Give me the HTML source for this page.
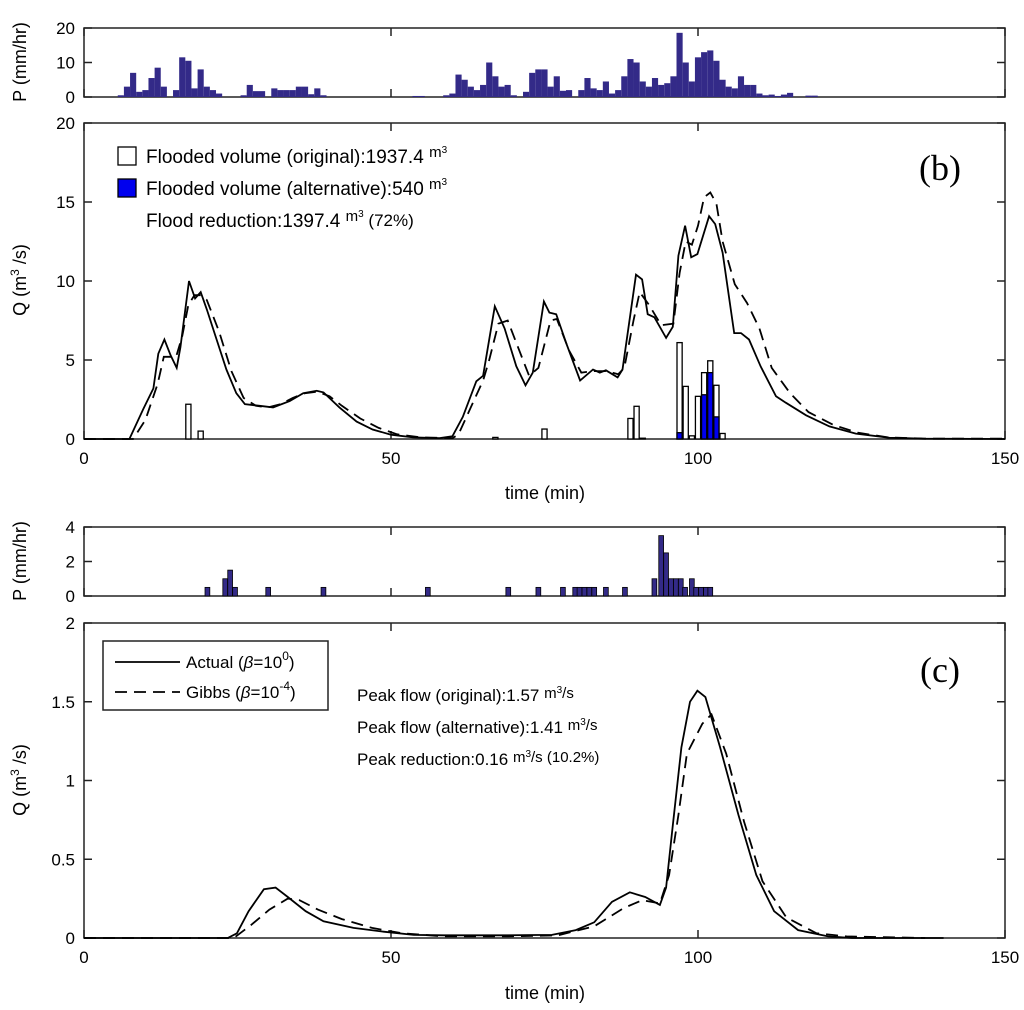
<!DOCTYPE html>
<html><head><meta charset="utf-8"><style>
body{margin:0;background:#fff;}
svg{display:block;font-family:"Liberation Sans",Arial,sans-serif;}
</style></head><body>
<svg id="fig" width="1024" height="1010" viewBox="0 0 1024 1010" xmlns="http://www.w3.org/2000/svg"></svg>
<script>
// ---- data ----
const rainTimesB = [6,7,8,9,10,11,12,13,15,16,17,18,19,20,21,22,26,27,28,29,31,32,33,34,35,36,37,38,39,54,55,59,60,61,62,63,64,65,66,67,68,69,70,72,73,74,75,76,77,78,79,81,82,83,84,85,86,87,88,89,90,91,92,93,94,95,96,97,98,99,100,101,102,103,104,105,106,107,108,109,110,111,112,113,114,115,118,119];
const rainValsB = [0.5,3,7,1.5,2,5.5,8.5,3,2,11.5,10.5,2.5,8,3,2,1,0.5,3.5,1.7,1.7,2.5,2,2,2,3,3,0.8,2.5,0.5,0.3,0.3,0.5,1,6.5,5,3,2,3.5,10,6,3,3.5,0.5,1.5,7,8,8,3,6,1.8,2,2,5.5,2.5,2,4.5,1,2,6,11,10,4.5,3,5.5,3.5,4,6,18.6,10,4.5,11.5,13,13.5,10.5,5,3,2.5,6,3.5,3.5,1,0.5,0.7,0.3,0.7,1.2,0.4,0.4];
const qActT_B = [0,7.4,9.65,11.3,12.1,13.1,14.1,15.1,15.7,17.1,18.1,19,20,21.6,23.2,24.8,26.2,28.6,30.8,33.5,35.7,37.9,39,41.6,44.4,47,50,53.6,57.9,60,61.7,63.9,65,66.9,68.5,70.4,71.9,73.1,74.9,75.8,76.9,78.5,80.8,82.9,84,85,86.9,87.7,89.9,90.9,91.8,92.9,94.8,95.9,96.8,97.9,98.9,99.9,101.8,102.8,104,105.9,107,108.3,110.2,112.7,114.3,117.6,121.4,125.7,131.1,136.5,150];
const qActV_B = [0,0,1.9,3.2,5.4,6.3,5.3,4.5,5.8,10,8.9,9.3,8.2,6.3,4.4,2.9,2.2,2.1,2.0,2.4,2.9,3.05,2.95,2.0,1.1,0.6,0.27,0.1,0.06,0.17,1.4,3.65,4,8.4,7,4.6,3.4,4.2,8.7,8.0,7.9,6.1,3.7,4.4,4.2,4.35,3.9,4.4,10.4,10.1,7.9,7.7,6.4,7.1,11.6,13.5,11.5,11.7,14.1,13.6,11.8,6.7,6.7,6.3,4.6,2.7,2.3,1.5,0.8,0.34,0.08,0.02,0];
const qGibT_B = [0,8,10,12,13,14,15,16,17,18,19,20,22,24,26,28,30,32,34,36,38,40,42,45,48,51,55,60,61,63,65,66,67.5,69,71,72.5,74,75,76,77,79,81,83,85,87,88,89.5,90.5,92,94,96,97,98,99,100,101,102,103,104,106,108,110,112,115,118,122,126,131,137,150];
const qGibV_B = [0,0,1.2,3.5,5.2,5.2,5.2,6.5,8.5,9.1,9.1,8.8,6.8,4.3,2.6,2.1,2.0,2.2,2.6,2.9,3.0,2.7,2.1,1.3,0.7,0.3,0.1,0.05,0.3,2.0,3.7,5.0,7.3,7.5,5.5,4.0,4.5,6,7.5,7.6,5.6,4.2,4.3,4.3,4.1,4.5,7.5,9.3,8.5,7.2,7.3,10.5,12.5,12.3,13.5,15.3,15.6,14.9,12.5,9.8,8.6,7.0,4.5,2.9,1.7,0.9,0.4,0.1,0.02,0.02];
const floodT = [17,19,67,75,89,90,91,97,98,99,100,101,102,103,104];
const floodOrig = [2.2,0.5,0.1,0.63,1.3,2.07,0.05,6.1,3.33,0.2,2.7,4.2,4.95,3.4,0.35];
const floodAlt = [0,0,0,0,0,0,0,0.4,0,0,0,2.8,4.2,1.4,0];
const rainTimesC = [20.1,23.0,23.8,24.6,30.0,39.0,56.0,69.1,74.0,78.0,80.0,80.7,81.5,82.3,83.1,85.0,88.1,92.9,94.0,94.8,95.6,96.4,97.2,97.9,99.0,99.7,100.5,101.3,102.0];
const rainValsC = [0.5,1.0,1.5,0.5,0.5,0.5,0.5,0.5,0.5,0.5,0.5,0.5,0.5,0.5,0.5,0.5,0.5,1.0,3.5,2.5,1.0,1.0,1.0,0.5,1.0,0.5,0.5,0.5,0.5];
const qActT_C = [0,23.4,24.9,26.8,29.3,31.2,33.2,36.1,39,43.9,48.8,53.7,58.6,68.4,76.2,80.1,83.1,86,88.9,91.4,93.8,94.8,95.8,97.3,98.7,99.9,101.2,103.6,106.6,109.5,112.4,116.3,121.2,125.1,140];
const qActV_C = [0,0,0.03,0.17,0.31,0.32,0.26,0.17,0.106,0.064,0.04,0.02,0.017,0.017,0.02,0.05,0.1,0.23,0.29,0.26,0.21,0.32,0.68,1.21,1.5,1.57,1.53,1.21,0.78,0.4,0.17,0.05,0.01,0,0];
const qGibT_C = [0,24.4,27.3,30.2,33.2,35.1,38.1,42,46.9,51.8,58.6,68.4,77.2,83.1,87.9,90.9,93.8,95.3,96.8,98.2,100.7,102.2,104.6,107.5,110.5,114.4,119.3,124.2,137];
const qGibV_C = [0,0,0.085,0.18,0.25,0.24,0.18,0.12,0.064,0.03,0.01,0.01,0.017,0.074,0.19,0.24,0.22,0.4,0.78,1.17,1.36,1.42,1.17,0.74,0.36,0.13,0.03,0.01,0];
const xTicks = [0,50,100,150];

// ---- helpers ----
const NS="http://www.w3.org/2000/svg";
const svg=document.getElementById('fig');
function mk(tag,attrs,parent){const e=document.createElementNS(NS,tag);for(const k in attrs)e.setAttribute(k,attrs[k]);(parent||svg).appendChild(e);return e;}
const X0=84,X1=1005;
function xs(t){return X0+(t/150)*(X1-X0);}
function panel(top,bot,ymax,yticks,ylabels,name,showXLabels){
  const g=mk('g',{});
  
  
  const ys=v=>bot-(v/ymax)*(bot-top);
  const box=mk('rect',{x:X0,y:top,width:X1-X0,height:bot-top,fill:'none',stroke:'#222','stroke-width':1.5},g);
  
  
  xTicks.forEach(t=>{
    mk('line',{x1:xs(t),x2:xs(t),y1:bot,y2:bot-8,stroke:'#222','stroke-width':1.5},g);
    mk('line',{x1:xs(t),x2:xs(t),y1:top,y2:top+8,stroke:'#222','stroke-width':1.5},g);
    if(showXLabels){const tx=mk('text',{x:xs(t),y:bot+25,'text-anchor':'middle','font-size':17},g);tx.textContent=t;
      
      }
  });
  yticks.forEach((v,i)=>{
    mk('line',{x1:X0,x2:X0+8,y1:ys(v),y2:ys(v),stroke:'#222','stroke-width':1.5},g);
    mk('line',{x1:X1,x2:X1-8,y1:ys(v),y2:ys(v),stroke:'#222','stroke-width':1.5},g);
    const tx=mk('text',{x:X0-9,y:ys(v)+6,'text-anchor':'end','font-size':17},g);tx.textContent=ylabels[i];
    
    
  });
  return {g,ys};
}
function line(T,V,ys,dash,name,g){
  const d=T.map((t,i)=>(i?'L':'M')+xs(t).toFixed(1)+','+ys(V[i]).toFixed(1)).join('');
  const p=mk('path',{d,fill:'none',stroke:'#000','stroke-width':1.8,'stroke-dasharray':dash||'none'},g);
  
  
}
function rainBars(T,V,ys,bot,w,stroke,name,g){
  T.forEach((t,i)=>{
    const r=mk('rect',{x:xs(t-w/2),y:ys(V[i]),width:xs(w)-X0,height:bot-ys(V[i]),fill:'#332a88',stroke:stroke,'stroke-width':stroke==='none'?0:0.8},g);
    
    
  });
}
function label(x,y,txt,size,rot,name,extra){
  const t=mk('text',Object.assign({x,y,'font-size':size,'text-anchor':'middle'},extra||{}));
  if(rot)t.setAttribute('transform','rotate(-90 '+x+' '+y+')');
  t.innerHTML=txt;
  
  
  return t;
}

// ---- panel 1: rainfall (b) ----
const p1=panel(28,97,20,[0,10,20],['0','10','20'],'rain-panel-b',false);
rainBars(rainTimesB,rainValsB,p1.ys,97,1,'none','rain-bar',p1.g);
label(26,62,'P (mm/hr)',18,true,'y-axis-title-rain-b');

// ---- panel b: flow ----
const pb=panel(123,439,20,[0,5,10,15,20],['0','5','10','15','20'],'flow-panel-b',true);
floodT.forEach((t,i)=>{
  const r=mk('rect',{x:xs(t-0.42),y:pb.ys(floodOrig[i]),width:xs(0.84)-X0,height:439-pb.ys(floodOrig[i]),fill:'#fff',stroke:'#000','stroke-width':1.3},pb.g);
  
  
  if(floodAlt[i]>0){
    const b=mk('rect',{x:xs(t-0.42),y:pb.ys(floodAlt[i]),width:xs(0.84)-X0,height:439-pb.ys(floodAlt[i]),fill:'#0000ee',stroke:'#000','stroke-width':1.3},pb.g);
    
    
  }
});
line(qActT_B,qActV_B,pb.ys,null,'actual-flow-line-b',pb.g);
line(qGibT_B,qGibV_B,pb.ys,'12,7','gibbs-flow-line-b',pb.g);
label(26,280,'Q (m<tspan dy="-7" font-size="12">3</tspan><tspan dy="7"> /s)</tspan>',18,true,'y-axis-title-flow-b');
label(545,499,'time (min)',18,false,'x-axis-title-b');
label(940,180,'(b)',36,false,'panel-label-b',{'font-family':'"Liberation Serif",serif'});
// legend b
const lg1=mk('rect',{x:118,y:147,width:18,height:18,fill:'#fff',stroke:'#000','stroke-width':1.3});


const lg2=mk('rect',{x:118,y:179,width:18,height:18,fill:'#0000ee',stroke:'#000','stroke-width':1.3});


label(146,163,'Flooded volume (original):1937.4 <tspan font-size="15" dy="-6">m</tspan><tspan font-size="10" dy="-4">3</tspan>',19,false,'legend-entry-original',{'text-anchor':'start'});
label(146,195,'Flooded volume (alternative):540 <tspan font-size="15" dy="-6">m</tspan><tspan font-size="10" dy="-4">3</tspan>',19,false,'legend-entry-alternative',{'text-anchor':'start'});
label(146,227,'Flood reduction:1397.4 <tspan font-size="15" dy="-6">m</tspan><tspan font-size="10" dy="-4">3</tspan><tspan font-size="17" dy="9"> (72%)</tspan>',19,false,'flood-reduction-text',{'text-anchor':'start'});

// ---- panel 2: rainfall (c) ----
const p2=panel(527,596,4,[0,2,4],['0','2','4'],'rain-panel-c',false);
rainBars(rainTimesC,rainValsC,p2.ys,596,0.78,'#000','rain-bar-c',p2.g);
label(26,561,'P (mm/hr)',18,true,'y-axis-title-rain-c');

// ---- panel c: flow ----
const pc=panel(623,938,2,[0,0.5,1,1.5,2],['0','0.5','1','1.5','2'],'flow-panel-c',true);
line(qActT_C,qActV_C,pc.ys,null,'actual-flow-line-c',pc.g);
line(qGibT_C,qGibV_C,pc.ys,'12,7','gibbs-flow-line-c',pc.g);
label(26,780,'Q (m<tspan dy="-7" font-size="12">3</tspan><tspan dy="7"> /s)</tspan>',18,true,'y-axis-title-flow-c');
label(545,999,'time (min)',18,false,'x-axis-title-c');
label(940,682,'(c)',36,false,'panel-label-c',{'font-family':'"Liberation Serif",serif'});
const lgb=mk('rect',{x:103,y:641,width:225,height:69,fill:'#fff',stroke:'#222','stroke-width':1.5});


const l1=mk('line',{x1:115,x2:180,y1:662,y2:662,stroke:'#000','stroke-width':1.8});


const l2=mk('line',{x1:115,x2:180,y1:692,y2:692,stroke:'#000','stroke-width':1.8,'stroke-dasharray':'12,7'});


label(186,668,'Actual (<tspan font-style="italic">β</tspan>=10<tspan font-size="12" dy="-8">0</tspan><tspan dy="8">)</tspan>',17,false,'legend-entry-actual',{'text-anchor':'start'});
label(186,698,'Gibbs (<tspan font-style="italic">β</tspan>=10<tspan font-size="12" dy="-8">-4</tspan><tspan dy="8">)</tspan>',17,false,'legend-entry-gibbs',{'text-anchor':'start'});
label(357,701,'Peak flow (original):1.57 <tspan font-size="15" dy="-3">m</tspan><tspan font-size="10" dy="-5">3</tspan><tspan font-size="15" dy="5">/s</tspan>',17,false,'peak-flow-original-text',{'text-anchor':'start'});
label(357,733,'Peak flow (alternative):1.41 <tspan font-size="15" dy="-3">m</tspan><tspan font-size="10" dy="-5">3</tspan><tspan font-size="15" dy="5">/s</tspan>',17,false,'peak-flow-alternative-text',{'text-anchor':'start'});
label(357,765,'Peak reduction:0.16 <tspan font-size="15" dy="-3">m</tspan><tspan font-size="10" dy="-5">3</tspan><tspan font-size="15" dy="5">/s (10.2%)</tspan>',17,false,'peak-reduction-text',{'text-anchor':'start'});
</script>
</body></html>
